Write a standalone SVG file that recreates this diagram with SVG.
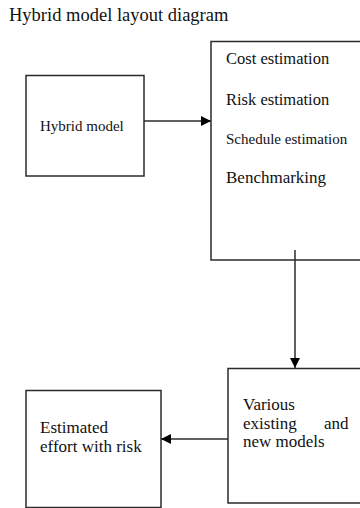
<svg xmlns="http://www.w3.org/2000/svg" width="360" height="508" viewBox="0 0 360 508">
<style>
.box{fill:#fff;stroke:#2b2b2b;stroke-width:1.5}
.line{fill:none;stroke:#2b2b2b;stroke-width:1.5}
text{font-family:"Liberation Serif","Times New Roman",serif;fill:#111}
</style>
<defs>
<marker id="ah" viewBox="0 0 10 10" refX="10" refY="5" markerWidth="11" markerHeight="10" markerUnits="userSpaceOnUse" orient="auto">
<path d="M0,0 L10,5 L0,10 Z" fill="#000"/>
</marker>
</defs>
<rect width="360" height="508" fill="#fff"/>
<text x="9" y="20.5" font-size="18.5">Hybrid model layout diagram</text>
<g id="hybrid-model">
<rect class="box" x="26" y="75.5" width="118" height="100.5"/>
<text x="40" y="130.5" font-size="15">Hybrid model</text>
</g>
<g id="estimation">
<rect class="box" x="211" y="41.5" width="160" height="218.5"/>
<text x="226" y="64" font-size="16.5">Cost estimation</text>
<text x="226" y="105" font-size="16.5">Risk estimation</text>
<text x="226" y="144" font-size="15">Schedule estimation</text>
<text x="226" y="183" font-size="17">Benchmarking</text>
</g>
<g id="models">
<rect class="box" x="228" y="368.5" width="140" height="134.5"/>
<text x="243" y="410" font-size="17">Various</text>
<text x="243" y="429" font-size="17">existing</text>
<text x="324" y="429" font-size="17">and</text>
<text x="243" y="447" font-size="17">new models</text>
</g>
<g id="effort">
<rect class="box" x="26" y="390.5" width="135" height="117"/>
<text x="40" y="433" font-size="17">Estimated</text>
<text x="40" y="451.5" font-size="17">effort with risk</text>
</g>
<g id="connectors">
<line class="line" x1="144" y1="121" x2="211" y2="121" marker-end="url(#ah)"/>
<line class="line" x1="295" y1="250" x2="295" y2="368" marker-end="url(#ah)"/>
<line class="line" x1="228" y1="439" x2="161" y2="439" marker-end="url(#ah)"/>
</g>
</svg>
